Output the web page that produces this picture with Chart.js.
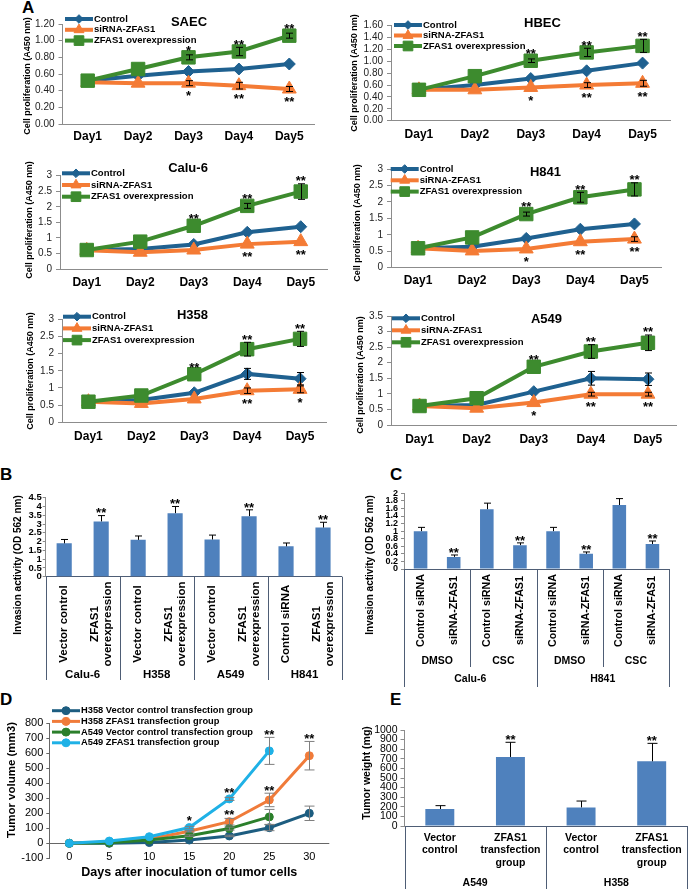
<!DOCTYPE html>
<html>
<head>
<meta charset="utf-8">
<title>ZFAS1 proliferation, invasion and tumour growth</title>
<script src="https://cdn.jsdelivr.net/npm/chart.js@4.4.1/dist/chart.umd.min.js"></script>
<style>
  html, body { margin: 0; padding: 0; background: #fff; }
  body { position: relative; width: 688px; height: 889px; overflow: hidden;
         font-family: "Liberation Sans", Arial, sans-serif; }
  canvas { position: absolute; }
  .panel { position: absolute; font-weight: bold; font-size: 17px; line-height: 1; color: #000; }
</style>
</head>
<body>
<div class="panel" style="left:22px;top:-1px">A</div>
<div class="panel" style="left:0px;top:466px">B</div>
<div class="panel" style="left:390px;top:466px">C</div>
<div class="panel" style="left:0px;top:691px">D</div>
<div class="panel" style="left:390px;top:691px">E</div>

<script>
// ── Data: panel A (cell proliferation, A450) ────────────────────────────────
const days = ['Day1', 'Day2', 'Day3', 'Day4', 'Day5'];
const groupNames = ['Control', 'siRNA-ZFAS1', 'ZFAS1 overexpression'];

const saecControl = [0.52, 0.58, 0.63, 0.66, 0.72];
const saecSiRNA   = [0.50, 0.49, 0.49, 0.46, 0.42];
const saecOver    = [0.52, 0.66, 0.80, 0.87, 1.06];
const saecControlErr = [0, 0, 0, 0, 0];
const saecSiRNAErr   = [0, 0, 0.03, 0.04, 0.03];
const saecOverErr    = [0, 0, 0.03, 0.05, 0.03];
const saecSiRNASig = ['', '', '*', '**', '**'];
const saecOverSig  = ['', '', '*', '**', '**'];

const hbecControl = [0.52, 0.60, 0.71, 0.84, 0.97];
const hbecSiRNA   = [0.52, 0.52, 0.56, 0.60, 0.63];
const hbecOver    = [0.52, 0.75, 1.01, 1.15, 1.26];
const hbecControlErr = [0, 0, 0, 0, 0];
const hbecSiRNAErr   = [0, 0, 0, 0.04, 0.05];
const hbecOverErr    = [0, 0, 0.03, 0.07, 0.11];
const hbecSiRNASig = ['', '', '*', '**', '**'];
const hbecOverSig  = ['', '', '**', '**', '**'];

const calu6Control = [0.61, 0.64, 0.79, 1.18, 1.36];
const calu6SiRNA   = [0.60, 0.54, 0.61, 0.80, 0.88];
const calu6Over    = [0.61, 0.88, 1.39, 2.03, 2.49];
const calu6ControlErr = [0, 0, 0, 0, 0];
const calu6SiRNAErr   = [0, 0, 0, 0, 0];
const calu6OverErr    = [0, 0, 0, 0.08, 0.25];
const calu6SiRNASig = ['', '', '', '**', '**'];
const calu6OverSig  = ['', '', '**', '**', '**'];

const h841Control = [0.59, 0.64, 0.89, 1.17, 1.33];
const h841SiRNA   = [0.59, 0.51, 0.57, 0.79, 0.87];
const h841Over    = [0.59, 0.92, 1.63, 2.14, 2.38];
const h841ControlErr = [0, 0, 0, 0, 0];
const h841SiRNAErr   = [0, 0, 0, 0, 0.07];
const h841OverErr    = [0, 0, 0.06, 0.15, 0.20];
const h841SiRNASig = ['', '', '*', '**', '**'];
const h841OverSig  = ['', '', '**', '**', '**'];

const h358Control = [0.60, 0.65, 0.86, 1.41, 1.27];
const h358SiRNA   = [0.60, 0.55, 0.68, 0.92, 0.96];
const h358Over    = [0.60, 0.78, 1.40, 2.13, 2.43];
const h358ControlErr = [0, 0, 0, 0.16, 0.18];
const h358SiRNAErr   = [0, 0, 0, 0.08, 0.10];
const h358OverErr    = [0, 0, 0, 0.20, 0.22];
const h358SiRNASig = ['', '', '', '**', '*'];
const h358OverSig  = ['', '', '**', '**', '**'];

const a549Control = [0.61, 0.64, 1.07, 1.50, 1.47];
const a549SiRNA   = [0.61, 0.54, 0.72, 0.99, 0.99];
const a549Over    = [0.61, 0.86, 1.87, 2.36, 2.64];
const a549ControlErr = [0, 0, 0, 0.22, 0.20];
const a549SiRNAErr   = [0, 0, 0, 0.06, 0.06];
const a549OverErr    = [0, 0, 0, 0.22, 0.25];
const a549SiRNASig = ['', '', '*', '**', '**'];
const a549OverSig  = ['', '', '**', '**', '**'];

// ── Data: panel B (invasion, overexpression) ────────────────────────────────
const bLabels = [['Vector control'], ['ZFAS1', 'overexpression'],
                 ['Vector control'], ['ZFAS1', 'overexpression'],
                 ['Vector control'], ['ZFAS1', 'overexpression'],
                 ['Control siRNA'],  ['ZFAS1', 'overexpression']];
const bCells  = ['Calu-6', 'H358', 'A549', 'H841'];
const bValues = [1.90, 3.15, 2.10, 3.62, 2.12, 3.45, 1.73, 2.80];
const bErr    = [0.22, 0.33, 0.22, 0.38, 0.25, 0.36, 0.19, 0.30];
const bSig    = ['', '**', '', '**', '', '**', '', '**'];

// ── Data: panel C (invasion, siRNA under DMSO / CSC) ────────────────────────
const cLabels = ['Control siRNA', 'siRNA-ZFAS1', 'Control siRNA', 'siRNA-ZFAS1',
                 'Control siRNA', 'siRNA-ZFAS1', 'Control siRNA', 'siRNA-ZFAS1'];
const cTreat  = ['DMSO', 'CSC', 'DMSO', 'CSC'];
const cCells  = ['Calu-6', 'H841'];
const cValues = [1.00, 0.32, 1.58, 0.63, 1.00, 0.40, 1.69, 0.66];
const cErr    = [0.10, 0.05, 0.16, 0.06, 0.10, 0.05, 0.17, 0.08];
const cSig    = ['', '**', '', '**', '', '**', '', '**'];

// ── Data: panel D (tumour volume, mm3) ──────────────────────────────────────
const dDays = ['0', '5', '10', '15', '20', '25', '30'];
const dNames = ['H358 Vector control transfection group', 'H358 ZFAS1 transfection group',
                'A549 Vector control transfection group', 'A549 ZFAS1 transfection group'];
const h358VectorVol = [0, 0, 5, 22, 49, 104, 200];
const h358ZfasVol   = [0, 8, 29, 80, 144, 289, 584];
const a549VectorVol = [0, 3, 22, 51, 98, 176];
const a549ZfasVol   = [0, 15, 44, 105, 296, 616];
const h358VectorErr = [0, 0, 0, 0, 5, 20, 48];
const h358ZfasErr   = [0, 0, 0, 5, 22, 45, 95];
const a549VectorErr = [0, 0, 0, 5, 10, 50];
const a549ZfasErr   = [0, 0, 0, 8, 10, 90];
const h358ZfasSig   = ['', '', '', '', '**', '**', '**'];
const a549ZfasSig   = ['', '', '', '*', '**', '**'];

// ── Data: panel E (tumour weight, mg) ───────────────────────────────────────
const eLabels = [['Vector', 'control'], ['ZFAS1', 'transfection', 'group'],
                 ['Vector', 'control'], ['ZFAS1', 'transfection', 'group']];
const eCells  = ['A549', 'H358'];
const eValues = [177, 719, 194, 674];
const eErr    = [35, 153, 66, 187];
const eSig    = ['', '**', '', '**'];

// ── Styles ──────────────────────────────────────────────────────────────────
const FAM = '"Liberation Sans", Arial, sans-serif';
const f = (w, s) => `${w} ${s}px ${FAM}`;
const A_COLORS  = ['#1f6190', '#f47b35', '#3d8b2e'];
const A_MARKERS = ['rectRot', 'triangle', 'rect'];
const A_RADIUS  = [6, 8, 9.5];
const D_COLORS  = ['#1d5d80', '#f07b3a', '#2b7f2b', '#1fb1e6'];
const BAR = '#4f81bd';
const TABLE = '#4e5d75';
const AXIS = '#8c8c8c';

Chart.defaults.font.family = FAM;
Chart.defaults.color = '#000';

// ── Plugins ─────────────────────────────────────────────────────────────────
const errorBars = {
    id: 'errorBars',
    defaults: { cap: 8, color: '#000', width: 1, plusOnly: false },
    afterDatasetsDraw(chart, args, o) {
        const ctx = chart.ctx, ys = chart.scales.y;
        chart.data.datasets.forEach((ds, i) => {
            if (!ds.errors) return;
            ctx.save();
            ctx.strokeStyle = o.color; ctx.lineWidth = o.width;
            chart.getDatasetMeta(i).data.forEach((el, j) => {
                const e = ds.errors[j];
                if (!e) return;
                const v = ds.data[j], x = Math.round(el.x) + 0.5;
                const yTop = ys.getPixelForValue(v + e);
                const yBot = o.plusOnly ? ys.getPixelForValue(v) : ys.getPixelForValue(v - e);
                ctx.beginPath();
                ctx.moveTo(x, yTop); ctx.lineTo(x, yBot);
                ctx.moveTo(x - o.cap / 2, yTop); ctx.lineTo(x + o.cap / 2, yTop);
                if (!o.plusOnly) { ctx.moveTo(x - o.cap / 2, yBot); ctx.lineTo(x + o.cap / 2, yBot); }
                ctx.stroke();
            });
            ctx.restore();
        });
    }
};

const sigMarks = {
    id: 'sigMarks',
    defaults: { size: 13, clear: 4, gap: 6 },
    afterDatasetsDraw(chart, args, o) {
        const ctx = chart.ctx, ys = chart.scales.y;
        ctx.save();
        ctx.font = f('bold', o.size); ctx.fillStyle = '#000';
        ctx.textAlign = 'center'; ctx.textBaseline = 'alphabetic';
        chart.data.datasets.forEach((ds, i) => {
            if (!ds.sig) return;
            chart.getDatasetMeta(i).data.forEach((el, j) => {
                const s = ds.sig[j];
                if (!s) return;
                const v = ds.data[j], e = ds.errors ? (ds.errors[j] || 0) : 0;
                const cy = ds.sigBelow
                    ? Math.max(ys.getPixelForValue(v - e), el.y + o.clear) + o.gap
                    : Math.min(ys.getPixelForValue(v + e), el.y - o.clear) - o.gap;
                ctx.fillText(s, el.x, cy + 0.56 * o.size);
            });
        });
        ctx.restore();
    }
};

// legend drawn like the spreadsheet one: line sample with its marker in the middle
const lineLegend = {
    id: 'lineLegend',
    afterDraw(chart, args, o) {
        if (o.x === undefined) return;
        const ctx = chart.ctx;
        chart.data.datasets.forEach((ds, i) => {
            const x = o.x - o.ox, y = o.y - o.oy + i * o.dy;
            ctx.save();
            ctx.strokeStyle = ds.borderColor; ctx.lineWidth = ds.borderWidth;
            ctx.beginPath(); ctx.moveTo(x, y); ctx.lineTo(x + o.len, y); ctx.stroke();
            ctx.fillStyle = ds.pointBackgroundColor; ctx.strokeStyle = ds.pointBorderColor; ctx.lineWidth = 1;
            Chart.helpers.drawPoint(ctx, { pointStyle: ds.pointStyle, radius: ds.pointRadius * o.scale,
                                           rotation: 0, borderWidth: 1 }, x + o.len / 2, y);
            ctx.font = o.font; ctx.fillStyle = '#000';
            ctx.textAlign = 'left'; ctx.textBaseline = 'middle';
            ctx.fillText(ds.label, x + o.len + 1, y);
            ctx.restore();
        });
    }
};

// free text (chart titles, rotated axis titles) placed in page coordinates
const pageText = {
    id: 'pageText',
    afterDraw(chart, args, o) {
        if (!o.items) return;
        const ctx = chart.ctx;
        o.items.forEach(it => {
            ctx.save();
            ctx.font = it.font; ctx.fillStyle = '#000';
            ctx.textAlign = 'center'; ctx.textBaseline = 'middle';
            ctx.translate(it.x - o.ox, it.y - o.oy);
            if (it.rot) ctx.rotate(it.rot);
            ctx.fillText(it.text, 0, 0);
            ctx.restore();
        });
    }
};

// multi-level category axis drawn as a table under the bars
const catTable = {
    id: 'catTable',
    afterDraw(chart, args, o) {
        if (!o.levels) return;
        const ctx = chart.ctx, xs = chart.scales.x, a = chart.chartArea;
        const n = chart.data.labels.length;
        const step = xs.getPixelForValue(1) - xs.getPixelForValue(0);
        const edge = i => xs.getPixelForValue(i) - step / 2;
        ctx.save();
        ctx.fillStyle = '#000'; ctx.textAlign = 'center'; ctx.textBaseline = 'middle';
        ctx.font = o.font;
        chart.data.labels.forEach((lab, i) => {
            const lines = Array.isArray(lab) ? lab : [lab];
            const cx = xs.getPixelForValue(i), ly = o.labelY - o.oy;
            if (o.rotate) {
                ctx.save();
                ctx.translate(cx, ly); ctx.rotate(-Math.PI / 2);
                lines.forEach((t, k) => ctx.fillText(t, 0, (k - (lines.length - 1) / 2) * o.lineH));
                ctx.restore();
            } else {
                lines.forEach((t, k) => ctx.fillText(t, cx, ly + k * o.lineH));
            }
        });
        ctx.strokeStyle = o.color; ctx.lineWidth = 1;
        o.levels.forEach(lv => {
            const size = n / lv.names.length;
            ctx.font = lv.font;
            lv.names.forEach((name, g) => {
                ctx.fillText(name, (edge(g * size) + edge((g + 1) * size)) / 2, lv.y - o.oy);
            });
            ctx.beginPath();
            for (let g = 0; g <= lv.names.length; g++) {
                const x = Math.round(edge(g * size)) + 0.5;
                ctx.moveTo(x, a.bottom); ctx.lineTo(x, lv.bottom - o.oy);
            }
            ctx.stroke();
        });
        ctx.restore();
    }
};

Chart.register(errorBars, sigMarks, lineLegend, pageText, catTable);

// ── Helpers ─────────────────────────────────────────────────────────────────
function mkCanvas(box) {
    const c = document.createElement('canvas');
    c.width = box.w; c.height = box.h;
    c.style.left = box.x + 'px'; c.style.top = box.y + 'px';
    c.style.width = box.w + 'px'; c.style.height = box.h + 'px';
    document.body.appendChild(c);
    return c;
}

// padding + axis sizes that put the plot area exactly at `area` (page coords)
function frame(box, area) {
    return {
        padding: { left: 0, top: area.t - box.y, right: box.x + box.w - area.r, bottom: 0 },
        yW: area.l - box.x,
        xH: box.y + box.h - area.b
    };
}

function proliferation(p) {
    const a = p.area;
    const box = { x: a.l < 344 ? 15 : 347, y: Math.floor(a.t - 20) };
    box.w = Math.min(688, Math.ceil(a.r + 8)) - box.x;
    box.h = Math.ceil(a.b + 24) - box.y;
    const fr = frame(box, a);
    new Chart(mkCanvas(box), {
        type: 'line',
        data: {
            labels: days,
            datasets: p.series.map((s, i) => ({
                label: groupNames[i],
                data: s[0], errors: s[1], sig: s[2], sigBelow: i === 1,
                borderColor: A_COLORS[i], backgroundColor: A_COLORS[i],
                pointBackgroundColor: A_COLORS[i], pointBorderColor: A_COLORS[i],
                borderWidth: 4, pointStyle: A_MARKERS[i], pointRadius: A_RADIUS[i],
                pointBorderWidth: 1, order: 2 - i, tension: 0
            }))
        },
        options: {
            responsive: false, animation: false, events: [],
            layout: { padding: fr.padding },
            plugins: {
                legend: { display: false }, tooltip: { enabled: false },
                lineLegend: { ...p.legend, ox: box.x, oy: box.y, len: 28, scale: 0.72, font: f('bold', 9.5) },
                pageText: { ox: box.x, oy: box.y, items: [
                    { text: p.title, x: p.titlePos[0], y: p.titlePos[1], font: f('bold', 13) },
                    { text: 'Cell proliferation (A450 nm)', x: p.yTitle[0], y: p.yTitle[1],
                      font: f('bold', 9), rot: -Math.PI / 2 }
                ] },
                errorBars: { cap: 7 },
                sigMarks: { size: 13, clear: 4, gap: 6 }
            },
            scales: {
                x: {
                    offset: true,
                    grid: { display: false, drawTicks: false },
                    border: { display: true, color: AXIS },
                    ticks: { font: { size: 12, weight: 'bold' }, padding: p.labelY - a.b - 7.2,
                             maxRotation: 0, autoSkip: false },
                    afterFit: s => { s.height = fr.xH; }
                },
                y: {
                    min: 0, max: p.max,
                    grid: { drawOnChartArea: false, tickLength: 4, color: AXIS },
                    border: { color: AXIS },
                    ticks: { stepSize: p.step, autoSkip: false, font: { size: 10 }, color: '#222', padding: 4,
                             callback: v => p.dec ? v.toFixed(p.dec) : String(+v.toFixed(2)) },
                    afterFit: s => { s.width = fr.yW; }
                }
            }
        }
    });
}

function barPanel(p) {
    const box = p.box, a = p.area, fr = frame(box, a);
    new Chart(mkCanvas(box), {
        type: 'bar',
        data: {
            labels: p.labels,
            datasets: [{ data: p.data, errors: p.err, sig: p.sig, backgroundColor: BAR, borderWidth: 0,
                         barPercentage: 0.41, categoryPercentage: 1 }]
        },
        options: {
            responsive: false, animation: false, events: [],
            layout: { padding: fr.padding },
            plugins: {
                legend: { display: false }, tooltip: { enabled: false },
                errorBars: { cap: p.cap, plusOnly: true },
                sigMarks: { size: 13, clear: 0, gap: 5.5 },
                pageText: { ox: box.x, oy: box.y, items: [
                    { text: p.yTitle, x: p.yTitlePos[0], y: p.yTitlePos[1], font: p.yTitleFont, rot: -Math.PI / 2 }
                ] },
                catTable: { ...p.table, ox: box.x, oy: box.y, color: TABLE }
            },
            scales: {
                x: {
                    grid: { display: false, drawTicks: false },
                    border: { display: true, color: TABLE },
                    ticks: { display: false },
                    afterFit: s => { s.height = fr.xH; }
                },
                y: {
                    min: 0, max: p.max,
                    grid: { drawOnChartArea: false, tickLength: p.tickLen, color: AXIS },
                    border: { color: AXIS },
                    ticks: { stepSize: p.step, autoSkip: false, font: p.tickFont, padding: p.tickPad,
                             callback: v => String(+v.toFixed(2)) },
                    afterFit: s => { s.width = fr.yW; }
                }
            }
        }
    });
}

// ── Panel A ─────────────────────────────────────────────────────────────────
proliferation({ title: 'SAEC', titlePos: [189, 22], yTitle: [28, 76],
    area: { l: 62.5, t: 24, r: 316.5, b: 124 }, labelY: 137, max: 1.2, step: 0.2, dec: 2,
    legend: { x: 65, y: 19, dy: 10.8 },
    series: [[saecControl, saecControlErr, null], [saecSiRNA, saecSiRNAErr, saecSiRNASig], [saecOver, saecOverErr, saecOverSig]] });

proliferation({ title: 'HBEC', titlePos: [542.5, 23.5], yTitle: [354.5, 73],
    area: { l: 391, t: 25.7, r: 673, b: 120.7 }, labelY: 135, max: 1.6, step: 0.2, dec: 2,
    legend: { x: 394, y: 25, dy: 10.5 },
    series: [[hbecControl, hbecControlErr, null], [hbecSiRNA, hbecSiRNAErr, hbecSiRNASig], [hbecOver, hbecOverErr, hbecOverSig]] });

proliferation({ title: 'Calu-6', titlePos: [188, 168], yTitle: [30, 220],
    area: { l: 60, t: 175.7, r: 330, b: 269 }, labelY: 282.3, max: 3, step: 0.5, dec: 0,
    legend: { x: 62, y: 173.3, dy: 11.7 },
    series: [[calu6Control, calu6ControlErr, null], [calu6SiRNA, calu6SiRNAErr, calu6SiRNASig], [calu6Over, calu6OverErr, calu6OverSig]] });

proliferation({ title: 'H841', titlePos: [545.5, 172], yTitle: [358, 223],
    area: { l: 391, t: 169, r: 664, b: 267.7 }, labelY: 281, max: 3, step: 0.5, dec: 0,
    legend: { x: 390.7, y: 169, dy: 11.3 },
    series: [[h841Control, h841ControlErr, null], [h841SiRNA, h841SiRNAErr, h841SiRNASig], [h841Over, h841OverErr, h841OverSig]] });

proliferation({ title: 'H358', titlePos: [192.5, 315], yTitle: [31, 371],
    area: { l: 62, t: 319.3, r: 328.7, b: 422.3 }, labelY: 436.7, max: 3, step: 0.5, dec: 0,
    legend: { x: 63, y: 316.7, dy: 11.7 },
    series: [[h358Control, h358ControlErr, null], [h358SiRNA, h358SiRNAErr, h358SiRNASig], [h358Over, h358OverErr, h358OverSig]] });

proliferation({ title: 'A549', titlePos: [546.5, 319], yTitle: [361, 375],
    area: { l: 391, t: 316, r: 678.6, b: 425 }, labelY: 440, max: 3.5, step: 0.5, dec: 0,
    legend: { x: 392, y: 318.3, dy: 12 },
    series: [[a549Control, a549ControlErr, null], [a549SiRNA, a549SiRNAErr, a549SiRNASig], [a549Over, a549OverErr, a549OverSig]] });

// ── Panel B ─────────────────────────────────────────────────────────────────
barPanel({ box: { x: 8, y: 482, w: 336, h: 203 }, area: { l: 45.7, t: 497.7, r: 341.5, b: 576.7 },
    labels: bLabels, data: bValues, err: bErr, sig: bSig, cap: 7,
    max: 4.5, step: 0.5, tickFont: { size: 9.5, weight: 'bold' }, tickLen: 3, tickPad: 1,
    yTitle: 'Invasion activity (OD 562 nm)', yTitlePos: [18, 565], yTitleFont: f('bold', 10),
    table: { rotate: true, font: f('bold', 11.5), labelY: 624, lineH: 13,
             levels: [{ names: bCells, y: 675, bottom: 680, font: f('bold', 11.5) }] } });

// ── Panel C ─────────────────────────────────────────────────────────────────
barPanel({ box: { x: 362, y: 480, w: 310, h: 210 }, area: { l: 404, t: 493.3, r: 669, b: 569 },
    labels: cLabels, data: cValues, err: cErr, sig: cSig, cap: 7,
    max: 2, step: 0.2, tickFont: { size: 9, weight: 'bold' }, tickLen: 3, tickPad: 3,
    yTitle: 'Invasion activity (OD 562 nm)', yTitlePos: [370, 565], yTitleFont: f('bold', 10),
    table: { rotate: true, font: f('bold', 10.7), labelY: 610.5, lineH: 12,
             levels: [{ names: cTreat, y: 660.7, bottom: 667, font: f('bold', 10.5) },
                      { names: cCells, y: 679, bottom: 687, font: f('bold', 10.5) }] } });

// ── Panel E ─────────────────────────────────────────────────────────────────
barPanel({ box: { x: 358, y: 712, w: 330, h: 177 }, area: { l: 404.5, t: 730, r: 687, b: 826 },
    labels: eLabels, data: eValues, err: eErr, sig: eSig, cap: 10,
    max: 1000, step: 100, tickFont: { size: 10.5 }, tickLen: 4, tickPad: 3,
    yTitle: 'Tumor weight (mg)', yTitlePos: [367, 773], yTitleFont: f('bold', 10.5),
    table: { rotate: false, font: f('bold', 10.5), labelY: 838, lineH: 12.4,
             levels: [{ names: eCells, y: 883, bottom: 889, font: f('bold', 10.5) }] } });

// ── Panel D ─────────────────────────────────────────────────────────────────
(function () {
    const box = { x: 2, y: 693, w: 338, h: 188 };
    const a = { l: 49.3, t: 723.3, r: 329.3, b: 858.3 };
    const fr = frame(box, a);
    const sets = [[h358VectorVol, h358VectorErr, null], [h358ZfasVol, h358ZfasErr, h358ZfasSig],
                  [a549VectorVol, a549VectorErr, null], [a549ZfasVol, a549ZfasErr, a549ZfasSig]];
    new Chart(mkCanvas(box), {
        type: 'line',
        data: {
            labels: dDays,
            datasets: sets.map((s, i) => ({
                label: dNames[i], data: s[0], errors: s[1], sig: s[2],
                borderColor: D_COLORS[i], backgroundColor: D_COLORS[i],
                pointBackgroundColor: D_COLORS[i], pointBorderColor: D_COLORS[i],
                borderWidth: 3, pointStyle: 'circle', pointRadius: 4, pointBorderWidth: 1,
                order: 3 - i, tension: 0
            }))
        },
        options: {
            responsive: false, animation: false, events: [],
            layout: { padding: fr.padding },
            plugins: {
                legend: { display: false }, tooltip: { enabled: false },
                lineLegend: { x: 52, y: 710.7, dy: 10.7, ox: box.x, oy: box.y, len: 28, scale: 1,
                              font: f('bold', 9.3) },
                pageText: { ox: box.x, oy: box.y, items: [
                    { text: 'Tumor volume (mm3)', x: 12, y: 780, font: f('bold', 11.5), rot: -Math.PI / 2 }
                ] },
                errorBars: { cap: 10, color: '#7f7f7f' },
                sigMarks: { size: 13, clear: 4, gap: 5.5 }
            },
            scales: {
                x: {
                    offset: true,
                    grid: { display: false, drawTicks: false },
                    border: { display: false },
                    ticks: { font: { size: 11 }, padding: -8.2, maxRotation: 0, autoSkip: false },
                    title: { display: true, text: 'Days after inoculation of tumor cells',
                             font: { size: 12.5, weight: 'bold' }, padding: { top: 0, bottom: 1 } },
                    afterFit: s => {
                        s.height = fr.xH;
                        // the day labels sit level with the -100 gridline, so don't clip them to the axis box
                        s._computeLabelArea = () => undefined;
                    }
                },
                y: {
                    min: -100, max: 800,
                    grid: { drawOnChartArea: true, tickLength: 3, tickColor: '#666',
                            color: c => c.tick && c.tick.value === 0 ? '#666' : 'rgba(0,0,0,0)' },
                    border: { color: '#666' },
                    ticks: { stepSize: 100, autoSkip: false, font: { size: 11 }, padding: 3 },
                    afterFit: s => { s.width = fr.yW; }
                }
            }
        }
    });
})();
</script>
</body>
</html>
